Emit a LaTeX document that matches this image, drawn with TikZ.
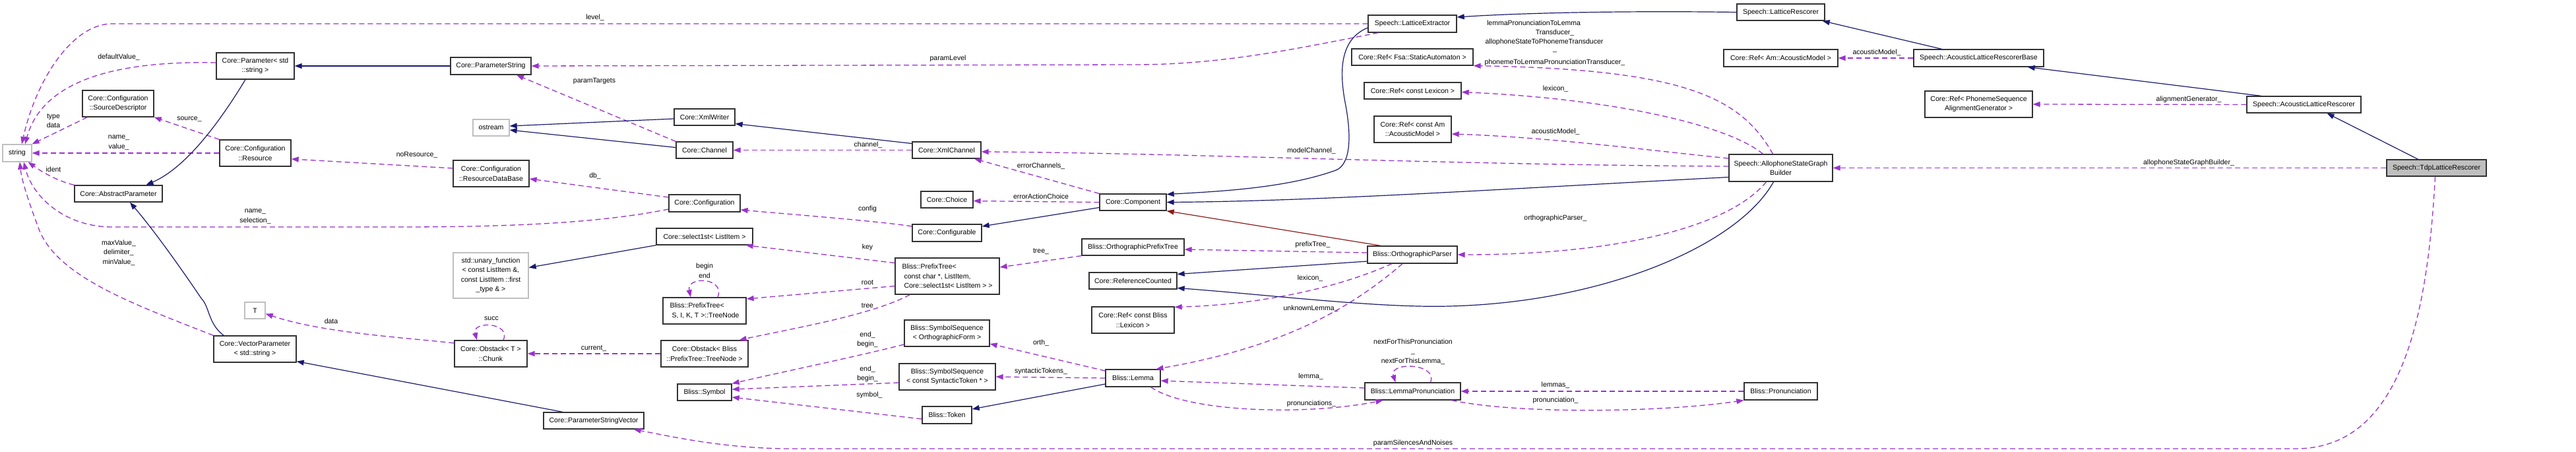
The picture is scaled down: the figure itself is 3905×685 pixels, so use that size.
\documentclass[tikz,border=0pt]{standalone}
\usepackage{fontspec}
\setmainfont{Liberation Sans}
\usetikzlibrary{arrows.meta}
\definecolor{inhc}{RGB}{25,25,112}
\definecolor{usec}{RGB}{154,50,205}
\definecolor{redc}{RGB}{139,26,26}
\definecolor{grayc}{RGB}{191,191,191}
\definecolor{boxc}{RGB}{50,50,50}
\newcommand\dfont{\fontsize{10.5}{14.5}\selectfont}
\begin{document}
\begin{tikzpicture}[x=1pt,y=-1pt,
  cls/.style={draw=boxc, fill=white, line width=1.3pt, inner sep=0pt, align=center, font=\dfont},
  ext/.style={cls, draw=grayc},
  lcls/.style={cls, align=left},
  lab/.style={inner sep=0pt, align=center, font=\dfont},
  inh/.style={draw=inhc, line width=1.2pt, -{Triangle[length=11pt,width=8pt]}},
  red/.style={draw=redc, line width=1.2pt, -{Triangle[length=11pt,width=8pt]}},
  use/.style={draw=usec, line width=1.3pt, dash pattern=on 8pt off 5pt, -{Triangle[length=11pt,width=8pt]}}]
\fill[white] (0,0) rectangle (3905,685);
\useasboundingbox (0,0) rectangle (3905,685);

% ---------------- nodes ----------------
\node[ext, minimum width=44pt, minimum height=26pt] (string) at (26,232) {string};
\node[cls, minimum width=118pt, minimum height=40pt] (param) at (387,100) {Core::Parameter< std\\::string >};
\node[cls, minimum width=108pt, minimum height=40pt] (srcdesc) at (179,157) {Core::Configuration\\::SourceDescriptor};
\node[cls, minimum width=108pt, minimum height=40pt] (resource) at (387,232) {Core::Configuration\\::Resource};
\node[cls, minimum width=133pt, minimum height=25pt] (absparam) at (179.5,293.5) {Core::AbstractParameter};
\node[ext, minimum width=31pt, minimum height=25pt] (T) at (386.5,470.5) {T};
\node[cls, minimum width=125pt, minimum height=40pt] (vecparam) at (386.5,529) {Core::VectorParameter\\< std::string >};
\node[cls, minimum width=122pt, minimum height=26pt] (paramstring) at (744,100) {Core::ParameterString};
\node[ext, minimum width=55pt, minimum height=25pt] (ostream) at (744.5,193.5) {ostream};
\node[cls, minimum width=92pt, minimum height=25pt] (xmlwriter) at (1068,177.5) {Core::XmlWriter};
\node[cls, minimum width=86pt, minimum height=25pt] (channel) at (1068,227.5) {Core::Channel};
\node[cls, minimum width=115pt, minimum height=40pt] (rdb) at (744.5,263) {Core::Configuration\\::ResourceDataBase};
\node[cls, minimum width=108pt, minimum height=26pt] (config) at (1068,308) {Core::Configuration};
\node[cls, minimum width=146pt, minimum height=25pt] (select1st) at (1068,358.5) {Core::select1st< ListItem >};
\node[ext, minimum width=114pt, minimum height=69pt] (unary) at (744,417.5) {std::unary\_function\\< const ListItem \&,\\ const ListItem ::first\\\_type \& >};
\node[lcls, minimum width=126pt, minimum height=40pt] (treenode) at (1068,471) {Bliss::PrefixTree<\\\hspace*{3pt}S, I, K, T >::TreeNode};
\node[cls, minimum width=110pt, minimum height=40pt] (chunk) at (744,536) {Core::Obstack< T >\\::Chunk};
\node[cls, minimum width=132pt, minimum height=40pt] (obstacktn) at (1068,536) {Core::Obstack< Bliss\\::PrefixTree::TreeNode >};
\node[cls, minimum width=82pt, minimum height=25pt] (symbol) at (1068,594.5) {Bliss::Symbol};
\node[cls, minimum width=152pt, minimum height=25pt] (psv) at (900,637.5) {Core::ParameterStringVector};
\node[cls, minimum width=104pt, minimum height=25pt] (xmlchannel) at (1435,227.5) {Core::XmlChannel};
\node[cls, minimum width=79pt, minimum height=25pt] (choice) at (1435.5,302.5) {Core::Choice};
\node[cls, minimum width=101pt, minimum height=25pt] (component) at (1717.5,306.5) {Core::Component};
\node[cls, minimum width=105pt, minimum height=26pt] (configurable) at (1435.5,353) {Core::Configurable};
\node[lcls, minimum width=158pt, minimum height=55pt] (prefixtree) at (1436,418.5) {Bliss::PrefixTree<\\\hspace*{3pt}const char *, ListItem,\\\hspace*{3pt}Core::select1st< ListItem > >};
\node[cls, minimum width=155pt, minimum height=25pt] (opt) at (1717.5,374.5) {Bliss::OrthographicPrefixTree};
\node[cls, minimum width=133pt, minimum height=25pt] (refcount) at (1717.5,425.5) {Core::ReferenceCounted};
\node[cls, minimum width=125pt, minimum height=40pt] (reflex) at (1717.5,485) {Core::Ref< const Bliss\\::Lexicon >};
\node[cls, minimum width=129pt, minimum height=40pt] (ssof) at (1435.5,505) {Bliss::SymbolSequence\\< OrthographicForm >};
\node[cls, minimum width=146pt, minimum height=40pt] (ssst) at (1436,571) {Bliss::SymbolSequence\\< const SyntacticToken * >};
\node[cls, minimum width=83pt, minimum height=26pt] (lemma) at (1717.5,573) {Bliss::Lemma};
\node[cls, minimum width=75pt, minimum height=26pt] (token) at (1435.5,629) {Bliss::Token};
\node[cls, minimum width=134pt, minimum height=26pt] (latext) at (2141,36) {Speech::LatticeExtractor};
\node[cls, minimum width=184pt, minimum height=25pt] (reffsa) at (2141,86.5) {Core::Ref< Fsa::StaticAutomaton >};
\node[cls, minimum width=147pt, minimum height=25pt] (refclex) at (2141.5,137.5) {Core::Ref< const Lexicon >};
\node[cls, minimum width=117pt, minimum height=40pt] (refcam) at (2141.5,196) {Core::Ref< const Am\\::AcousticModel >};
\node[cls, minimum width=136pt, minimum height=26pt] (orthparser) at (2141,386) {Bliss::OrthographicParser};
\node[cls, minimum width=145pt, minimum height=26pt] (lemmapron) at (2141.5,593) {Bliss::LemmaPronunciation};
\node[cls, minimum width=133pt, minimum height=25pt] (latresc) at (2699.5,18.5) {Speech::LatticeRescorer};
\node[cls, minimum width=173pt, minimum height=26pt] (refam) at (2699.5,88) {Core::Ref< Am::AcousticModel >};
\node[cls, minimum width=197pt, minimum height=26pt] (alrb) at (2999.5,88) {Speech::AcousticLatticeRescorerBase};
\node[cls, minimum width=163pt, minimum height=40pt] (refpsag) at (2999.5,158) {Core::Ref< PhonemeSequence\\AlignmentGenerator >};
\node[cls, minimum width=157pt, minimum height=41pt] (asgb) at (2699.5,254.5) {Speech::AllophoneStateGraph\\Builder};
\node[cls, minimum width=111pt, minimum height=26pt] (pron) at (2699.5,593) {Bliss::Pronunciation};
\node[cls, minimum width=173pt, minimum height=25pt] (alr) at (3492.5,158.5) {Speech::AcousticLatticeRescorer};
\node[cls, fill=grayc, minimum width=151pt, minimum height=25pt] (tdp) at (3693.5,254.5) {Speech::TdpLatticeRescorer};

% ---------------- usage (dashed) ----------------
\draw[use] (latext.west) -- (170,36) .. controls (110,36) and (55,120) .. ([xshift=7pt]string.north);
\draw[use] ([yshift=5pt]param.west) .. controls (180,92) and (65,120) .. ([xshift=12pt]string.north);
\draw[use] ([xshift=8pt]srcdesc.south west) -- (string.north east);
\draw[use] (resource.west) -- (string.east);
\draw[use] (absparam.north west) .. controls (85,274) and (60,258) .. ([xshift=-6pt]string.south east);
\draw[use] ([yshift=-9pt]config.west) .. controls (900,340) and (750,344) .. (600,344) -- (170,344) .. controls (100,344) and (50,300) .. ([xshift=10pt]string.south);
\draw[use] (vecparam.north west) .. controls (200,460) and (90,420) .. (60,350) .. controls (45,310) and (33,275) .. ([xshift=4pt]string.south);
\draw[use] (channel.north west) -- ([xshift=39pt]paramstring.south);
\draw[use] ([xshift=16pt]latext.south west) .. controls (1960,75) and (1850,98) .. (1720,98) -- (paramstring.east);
\draw[use] (resource.north west) -- (srcdesc.south east);
\draw[use] ([yshift=8pt]rdb.west) -- ([yshift=-9pt]resource.east);
\draw[use] ([yshift=9pt]config.west) -- ([yshift=-8pt]rdb.east);
\draw[use] (xmlchannel.west) -- (channel.east);
\draw[use] ([xshift=-12pt]asgb.north) .. controls (2640,150) and (2560,105) .. (reffsa.south east);
\draw[use] ([xshift=-27pt]asgb.north) .. controls (2620,190) and (2450,150) .. ([yshift=-2pt]refclex.east);
\draw[use] ([yshift=14.5pt]asgb.west) .. controls (2500,228) and (2350,208) .. ([yshift=-7pt]refcam.east);
\draw[use] ([yshift=2.5pt]asgb.west) .. controls (2200,250) and (1800,232) .. ([yshift=-2.5pt]xmlchannel.east);
\draw[use] ([xshift=-22pt]asgb.south) .. controls (2620,345) and (2450,386) .. (orthparser.east);
\draw[use] ([yshift=3pt]orthparser.west) -- ([yshift=-3.5pt]opt.east);
\draw[use] ([xshift=-31pt]orthparser.south) .. controls (2020,440) and (1900,462) .. ([yshift=-1pt]reflex.north east);
\draw[use] ([xshift=-15pt]orthparser.south) .. controls (2050,465) and (1950,525) .. ([xshift=35pt]lemma.north);
\draw[use] ([yshift=5pt]lemmapron.west) -- ([yshift=-4pt]lemma.east);
\draw[use] ([xshift=27pt]lemma.south) .. controls (1800,625) and (1980,630) .. ([xshift=-45pt]lemmapron.south);
\draw[use] ([xshift=27pt]lemmapron.north) .. controls (2180,550) and (2105,548) .. ([xshift=-26pt]lemmapron.north);
\draw[use] (pron.west) -- (lemmapron.east);
\draw[use] ([xshift=-14pt]lemmapron.south east) .. controls (2300,628) and (2520,625) .. (pron.south west);
\draw[use] ([xshift=-2pt]tdp.south) .. controls (3680,480) and (3640,680) .. (3480,680) -- (1200,680) .. controls (1100,680) and (1020,662) .. ([xshift=-16pt]psv.south east);
\draw[use] (tdp.west) -- (asgb.east);
\draw[use] (alr.west) -- (refpsag.east);
\draw[use] (alrb.west) -- (refam.east);
\draw[use] (component.north west) -- ([xshift=42pt]xmlchannel.south);
\draw[use] (component.west) -- ([yshift=-2pt]choice.east);
\draw[use] ([yshift=10pt]configurable.west) .. controls (1330,335) and (1200,325) .. ([yshift=-10pt]config.east);
\draw[use] ([yshift=20pt]prefixtree.west) -- ([xshift=-11pt]select1st.south east);
\draw[use] ([yshift=-15pt]prefixtree.west) -- ([yshift=18pt]treenode.east);
\draw[use] ([xshift=23pt]prefixtree.south west) .. controls (1320,478) and (1200,498) .. ([xshift=-14pt]obstacktn.north east);
\draw[use] (opt.south west) -- ([yshift=13.5pt]prefixtree.east);
\draw[use] ([yshift=-17pt]ssof.west) .. controls (1300,540) and (1180,565) .. (symbol.north east);
\draw[use] ([yshift=-9pt]ssst.west) -- ([yshift=4.5pt]symbol.east);
\draw[use] ([yshift=-6pt]token.west) -- ([yshift=-7.5pt]symbol.east);
\draw[use] ([yshift=11pt]lemma.west) -- ([yshift=-16pt]ssof.east);
\draw[use] (lemma.west) -- (ssst.east);
\draw[use] ([xshift=20pt]treenode.north) .. controls (1100,420) and (1040,418) .. ([xshift=-21pt]treenode.north);
\draw[use] ([xshift=19pt]chunk.north) .. controls (775,488) and (715,486) .. ([xshift=-21pt]chunk.north);
\draw[use] (obstacktn.west) -- (chunk.east);
\draw[use] ([yshift=16pt]chunk.west) .. controls (620,512) and (490,505) .. ([yshift=-5pt]T.east);

% ---------------- inheritance (solid) ----------------
\draw[inh] ([xshift=-15pt]param.south) .. controls (330,190) and (280,255) .. ([xshift=42pt]absparam.north);
\draw[inh] ([xshift=-47.5pt]vecparam.north) .. controls (315,490) and (318,465) .. (305,452) .. controls (270,400) and (230,345) .. ([xshift=17.5pt]absparam.south);
\draw[inh] (paramstring.west) -- (param.east);
\draw[inh] ([xshift=-47pt]psv.north) -- ([yshift=2pt]vecparam.south east);
\draw[inh] ([yshift=-2.5pt]xmlwriter.west) -- ([yshift=2.5pt]ostream.east);
\draw[inh] ([yshift=4pt]channel.west) -- ([yshift=-3.5pt]ostream.east);
\draw[inh] ([yshift=10pt]xmlchannel.west) -- ([yshift=-10pt]xmlwriter.east);
\draw[inh] (select1st.south west) -- ([yshift=12pt]unary.east);
\draw[inh] ([yshift=-8pt]component.west) -- ([yshift=10pt]configurable.east);
\draw[inh] ([yshift=-9pt]lemma.west) -- ([yshift=9pt]token.east);
\draw[inh] ([yshift=-6pt]latext.west) .. controls (2030,60) and (2030,110) .. (2040,160) .. controls (2050,215) and (2045,250) .. (2025,258) .. controls (1950,285) and (1850,290) .. ([yshift=12pt]component.east);
\draw[inh] ([yshift=-14pt]asgb.west) .. controls (2300,285) and (2000,305) .. (component.east);
\draw[red] ([xshift=-48pt]orthparser.north) -- (component.south east);
\draw[inh] ([yshift=-10pt]orthparser.west) -- ([yshift=10pt]refcount.east);
\draw[inh] ([xshift=-11pt]asgb.south) .. controls (2630,380) and (2400,470) .. (2150,464) .. controls (2050,462) and (1900,445) .. ([yshift=-11pt]refcount.east);
\draw[inh] (latresc.west) .. controls (2450,16) and (2300,20) .. ([yshift=10pt]latext.east);
\draw[inh] ([xshift=-56pt]alrb.north) -- ([xshift=-4pt]latresc.south east);
\draw[inh] ([xshift=-65pt]alr.north) -- ([xshift=-25pt]alrb.south east);
\draw[inh] ([xshift=-28pt]tdp.north) -- ([xshift=35pt]alr.south);

% ---------------- labels ----------------
\node[lab] (l1) at (902,27) {level\_};
\node[lab] (l2) at (180,87) {defaultValue\_};
\node[lab] (l3) at (81,183) {type\\data};
\node[lab] (l4) at (180,216) {name\_\\value\_};
\node[lab] (l5) at (81,257) {ident};
\node[lab] (l6) at (287,181) {source\_};
\node[lab] (l7) at (387,328) {name\_\\selection\_};
\node[lab] (l8) at (180,383) {maxValue\_\\delimiter\_\\minValue\_};
\node[lab] (l9) at (901,123) {paramTargets};
\node[lab] (l10) at (1437,89) {paramLevel};
\node[lab] (l11) at (632,235) {noResource\_};
\node[lab] (l12) at (902,267) {db\_};
\node[lab] (l13) at (1316,220) {channel\_};
\node[lab] (l14) at (1578,252) {errorChannels\_};
\node[lab] (l15) at (1578,298) {errorActionChoice};
\node[lab] (l16) at (1315,317) {config};
\node[lab] (l17) at (1315,375) {key};
\node[lab] (l18) at (1315,428) {root};
\node[lab] (l19) at (1315,463) {tree};
\node[lab] (l20) at (1315,515) {end\_\\begin\_};
\node[lab] (l21) at (1315,567) {end\_\\begin\_};
\node[lab] (l22) at (1318,599) {symbol\_};
\node[lab] (l23) at (1578,381) {tree\_};
\node[lab] (l24) at (1578,520) {orth\_};
\node[lab] (l25) at (1578,563) {syntacticTokens\_};
\node[lab] (l26) at (1068,410) {begin\\end};
\node[lab] (l27) at (745,483) {succ};
\node[lab] (l28) at (900,528) {current\_};
\node[lab] (l29) at (502,487) {data};
\node[lab] (l30a) at (2325,35) {lemmaPronunciationToLemma};
\node[lab] (l30b) at (2357,50) {Transducer\_};
\node[lab] (l30c) at (2341,64) {allophoneStateToPhonemeTransducer};
\node[lab] (l30d) at (2357,79) {\_};
\node[lab] (l30e) at (2357,95) {phonemeToLemmaPronunciationTransducer\_};
\node[lab] (l31) at (2358,135) {lexicon\_};
\node[lab] (l32) at (2358,200) {acousticModel\_};
\node[lab] (l33) at (1988,229) {modelChannel\_};
\node[lab] (l34) at (2358,331) {orthographicParser\_};
\node[lab] (l35) at (1990,371) {prefixTree\_};
\node[lab] (l36) at (1986,422) {lexicon\_};
\node[lab] (l37) at (1987,468) {unknownLemma\_};
\node[lab] (l38) at (2142,533) {nextForThisPronunciation\\\_\\nextForThisLemma\_};
\node[lab] (l39) at (1987,571) {lemma\_};
\node[lab] (l40) at (1988,612) {pronunciations\_};
\node[lab] (l41) at (2358,584) {lemmas\_};
\node[lab] (l42) at (2358,607) {pronunciation\_};
\node[lab] (l43) at (2142,672) {paramSilencesAndNoises};
\node[lab] (l44) at (2845,80) {acousticModel\_};
\node[lab] (l45) at (3318,151) {alignmentGenerator\_};
\node[lab] (l46) at (3318,247) {allophoneStateGraphBuilder\_};
\end{tikzpicture}
\end{document}
